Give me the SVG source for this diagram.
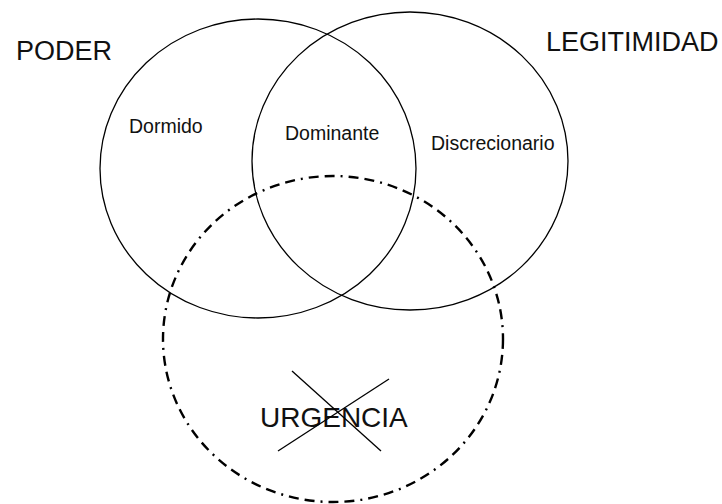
<svg xmlns="http://www.w3.org/2000/svg" width="722" height="504" viewBox="0 0 722 504">
<style>
.solid{fill:none;stroke:#000;stroke-width:1.3}
.dash{fill:none;stroke:#000;stroke-width:2.4;stroke-dasharray:10 6 10 6 2 6}
.big{font-family:"Liberation Sans",Arial,sans-serif;font-size:27px;fill:#111}
.small{font-family:"Liberation Sans",Arial,sans-serif;font-size:19.5px;fill:#111}
.x{stroke:#000;stroke-width:1.3}
</style>
<rect width="722" height="504" fill="#fff"/>
<g id="poder">
<ellipse class="solid" cx="258" cy="168.5" rx="158" ry="149.5"/>
<text class="big" x="16" y="60">PODER</text>
</g>
<g id="legitimidad">
<ellipse class="solid" cx="410" cy="161" rx="158" ry="149"/>
<text class="big" x="546" y="51">LEGITIMIDAD</text>
</g>
<g id="urgencia">
<ellipse class="dash" cx="333" cy="339" rx="170" ry="163"/>
<text class="big" x="260" y="427" style="font-size:28px">URGENCIA</text>
<line class="x" x1="292" y1="371" x2="381" y2="451"/>
<line class="x" x1="389" y1="379" x2="278" y2="451"/>
</g>
<g id="dormido"><text class="small" x="129" y="133">Dormido</text></g>
<g id="dominante"><text class="small" x="285" y="140">Dominante</text></g>
<g id="discrecionario"><text class="small" x="431" y="150">Discrecionario</text></g>
<g id="connectors"></g>
</svg>
